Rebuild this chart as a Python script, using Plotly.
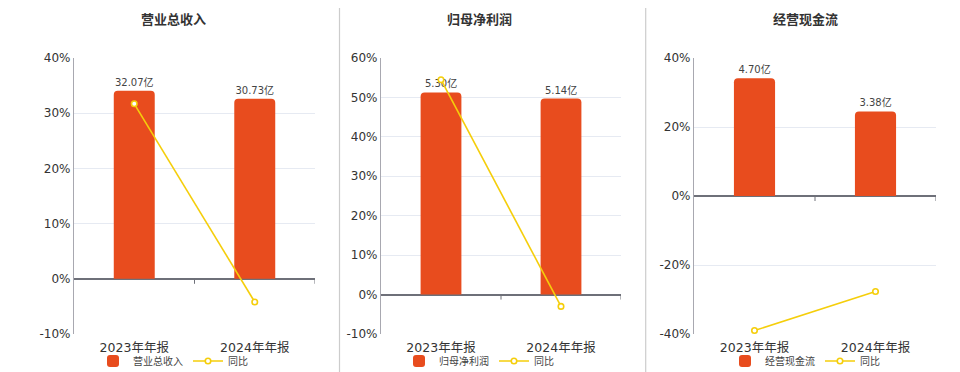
import plotly.graph_objects as go

categories = ["2023年年报", "2024年年报"]
titles = ["营业总收入", "归母净利润", "经营现金流"]
bar_names = ["营业总收入", "归母净利润", "经营现金流"]
bar_values = [[32.07, 30.73], [5.30, 5.14], [4.70, 3.38]]
bar_labels = [["32.07亿", "30.73亿"], ["5.30亿", "5.14亿"], ["4.70亿", "3.38亿"]]
yoy_values = [[31.7, -4.2], [54.5, -3.0], [-39.0, -27.7]]
pct_ticks = [[-10, 0, 10, 20, 30, 40], [-10, 0, 10, 20, 30, 40, 50, 60], [-40, -20, 0, 20, 40]]

# layout parameters
W, H = 960, 372
pct_ranges = [[-10, 40], [-10, 60], [-40, 40]]
bar_scale = [0.9416, 0.1034, 0.1378]
x_domains_px = [(74, 315), (381, 621), (694, 936)]
y_domain = [1 - 334 / H, 1 - 58 / H]
title_x_px = [173, 479, 805]
sep_px = [339.5, 645.7]

BAR = "#E84C1E"
LINE = "#F5CE0B"
FONT = "DejaVu Sans, Noto Sans CJK SC, sans-serif"

fig = go.Figure()
layout = dict(
    width=W, height=H, margin=dict(l=0, r=0, t=0, b=0, autoexpand=False),
    paper_bgcolor="white", plot_bgcolor="white",
    font=dict(family=FONT, color="#333"),
    bargap=0.66, showlegend=True,
)
shapes = []
annotations = []

for i in range(3):
    n = i + 1
    xa = "x" if n == 1 else f"x{n}"
    yb = "y" if n == 1 else f"y{n}"
    yl_id = n + 3
    yl = f"y{yl_id}"
    leg = "legend" if n == 1 else f"legend{n}"
    k = bar_scale[i]
    lo, hi = pct_ranges[i]

    fig.add_trace(go.Bar(
        x=categories, y=bar_values[i], name=bar_names[i],
        xaxis=xa, yaxis=yb, marker=dict(color=BAR, cornerradius=4, line=dict(width=0)),
        text=bar_labels[i], textposition="outside", cliponaxis=False,
        textfont=dict(size=10, color="#444"), legend=leg, hoverinfo="skip",
    ))
    fig.add_trace(go.Scatter(
        x=categories, y=yoy_values[i], name="同比", mode="lines+markers",
        xaxis=xa, yaxis=yl, line=dict(color=LINE, width=1.6),
        marker=dict(size=5.5, color="white", line=dict(color=LINE, width=1.6)),
        legend=leg, cliponaxis=False, hoverinfo="skip",
    ))

    d0, d1 = x_domains_px[i]
    layout[("xaxis" if n == 1 else f"xaxis{n}")] = dict(
        domain=[d0 / W, d1 / W], anchor=yb, type="category",
        range=[-0.5, 1.5], showgrid=False, showline=False, ticks="",
        ticklabelstandoff=4,
        tickfont=dict(size=12.5, color="#333"), fixedrange=True, automargin=False,
    )
    layout[("yaxis" if n == 1 else f"yaxis{n}")] = dict(
        domain=y_domain, anchor=xa, range=[lo * k, hi * k],
        tickvals=[t * k for t in pct_ticks[i]],
        ticktext=[f"{t}%" for t in pct_ticks[i]],
        tickfont=dict(size=12, color="#333"),
        showgrid=True, gridcolor="#E6EAF2", gridwidth=1,
        zeroline=True, zerolinecolor="#6E7079", zerolinewidth=1.5,
        showline=True, linecolor="#A8A8B0", linewidth=1.2,
        ticks="", ticklen=0, fixedrange=True, automargin=False,
    )
    layout[f"yaxis{yl_id}"] = dict(
        domain=y_domain, overlaying=yb, anchor=xa, range=[lo, hi],
        showgrid=False, showticklabels=False, zeroline=False, showline=False,
        fixedrange=True, automargin=False,
    )
    layout[leg] = dict(
        orientation="h", x=title_x_px[i] / W, xanchor="center",
        y=(H - 361) / H, yanchor="middle",
        font=dict(size=10, color="#444"), bgcolor="rgba(0,0,0,0)",
        itemwidth=30, tracegroupgap=0,
    )
    # category boundary ticks on the zero axis
    for bx in [0.5, 1.5]:
        shapes.append(dict(
            type="line", xref=xa, yref=yb, x0=bx, x1=bx,
            ysizemode="pixel", yanchor=0, y0=0, y1=-5,
            line=dict(color="#6E7079", width=1),
        ))
    annotations.append(dict(
        text=f"<b>{titles[i]}</b>", x=title_x_px[i] / W, y=1 - 19 / H,
        xref="paper", yref="paper", showarrow=False,
        font=dict(size=13, color="#333", family="Noto Sans CJK SC, sans-serif"),
        xanchor="center", yanchor="middle",
    ))

for sx in sep_px:
    shapes.append(dict(
        type="line", xref="paper", yref="paper", x0=sx / W, x1=sx / W,
        y0=0, y1=1 - 8 / H, line=dict(color="#CCCCCC", width=1.2),
    ))

layout["shapes"] = shapes
layout["annotations"] = annotations
fig.update_layout(**layout)
fig.write_html("out.html", config={"displayModeBar": False},
               post_script="document.body.style.margin='0';")
